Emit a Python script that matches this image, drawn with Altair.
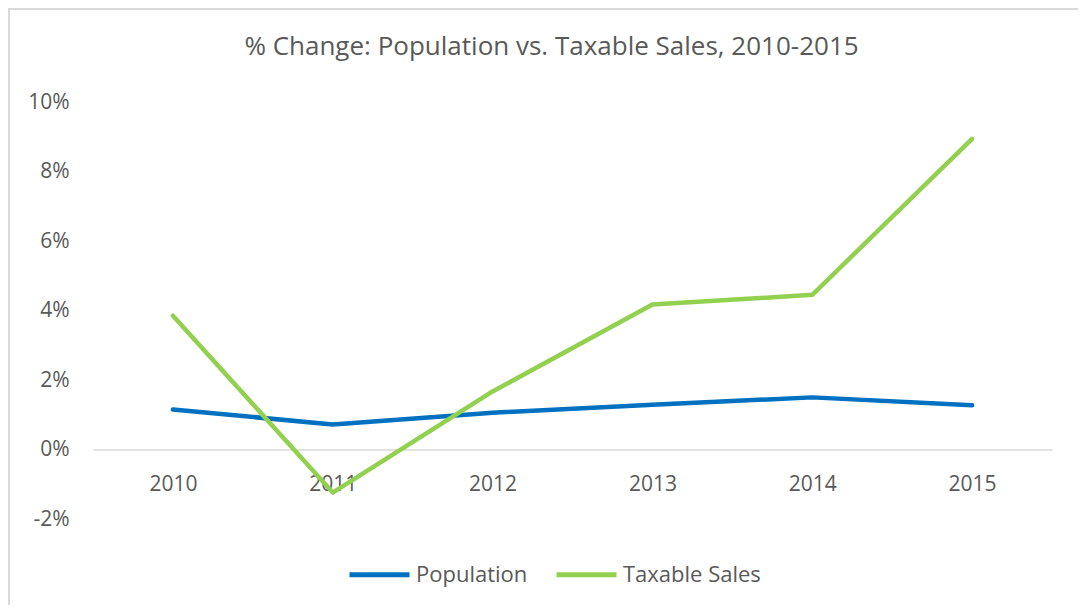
import altair as alt
import pandas as pd

years = ["2010", "2011", "2012", "2013", "2014", "2015"]
population = [1.15, 0.72, 1.06, 1.29, 1.50, 1.27]
taxable_sales = [3.85, -1.24, 1.67, 4.17, 4.45, 8.94]
series_names = ["Population", "Taxable Sales"]
series_colors = ["#0070C0", "#92D050"]
y_ticks = [-2, 0, 2, 4, 6, 8, 10]

rows = []
for name, vals in zip(series_names, [population, taxable_sales]):
    for yr, v in zip(years, vals):
        rows.append({"year": yr, "value": v, "series": name})
df = pd.DataFrame(rows)

FONT = "Open Sans"
TEXT = "#595959"
W, H = 959, 417

border = alt.Chart(alt.Data(values=[{}])).mark_rect(
    fillOpacity=0, stroke="#d9d9d9", strokeWidth=2
).encode(
    x=alt.value(-84), x2=alt.value(1200), y=alt.value(-93), y2=alt.value(800)
)

lines = alt.Chart(df).mark_line(strokeWidth=4.5, strokeCap="round", strokeJoin="round").encode(
    x=alt.X("year:O", sort=years, title=None,
            axis=alt.Axis(labelAngle=0, offset=-69.5, domainColor="#d9d9d9", domainWidth=1.5,
                          ticks=False, labelPadding=24, labelFontSize=21, labelColor=TEXT,
                          labelFont=FONT)),
    y=alt.Y("value:Q", title=None,
            scale=alt.Scale(domain=[-2, 10], nice=False, zero=False),
            axis=alt.Axis(values=y_ticks, labelExpr="datum.value + '%'", grid=False, domain=False,
                          ticks=False, labelPadding=24, labelFontSize=21, labelColor=TEXT,
                          labelFont=FONT)),
    color=alt.Color("series:N", title=None,
                    scale=alt.Scale(domain=series_names, range=series_colors),
                    legend=alt.Legend(orient="none", legendX=254, legendY=440, direction="horizontal",
                                      symbolType="stroke", symbolSize=3600, symbolStrokeWidth=5,
                                      labelFontSize=22, labelColor=TEXT, labelFont=FONT,
                                      labelOffset=4, columnPadding=18)),
    detail="series:N",
)

chart = alt.layer(border, lines).properties(
    width=W, height=H,
    background="white",
    title=alt.TitleParams("% Change: Population vs. Taxable Sales, 2010-2015",
                          fontSize=26, font=FONT, fontWeight="normal", color=TEXT,
                          anchor="middle", offset=-52, dx=-21),
    autosize=alt.AutoSizeParams(type="none"),
    padding={"left": 85, "top": 94, "right": 26, "bottom": 86},
).configure_view(strokeWidth=0, stroke="transparent")

chart.save("out.html", embed_options={"renderer": "svg", "actions": False})
